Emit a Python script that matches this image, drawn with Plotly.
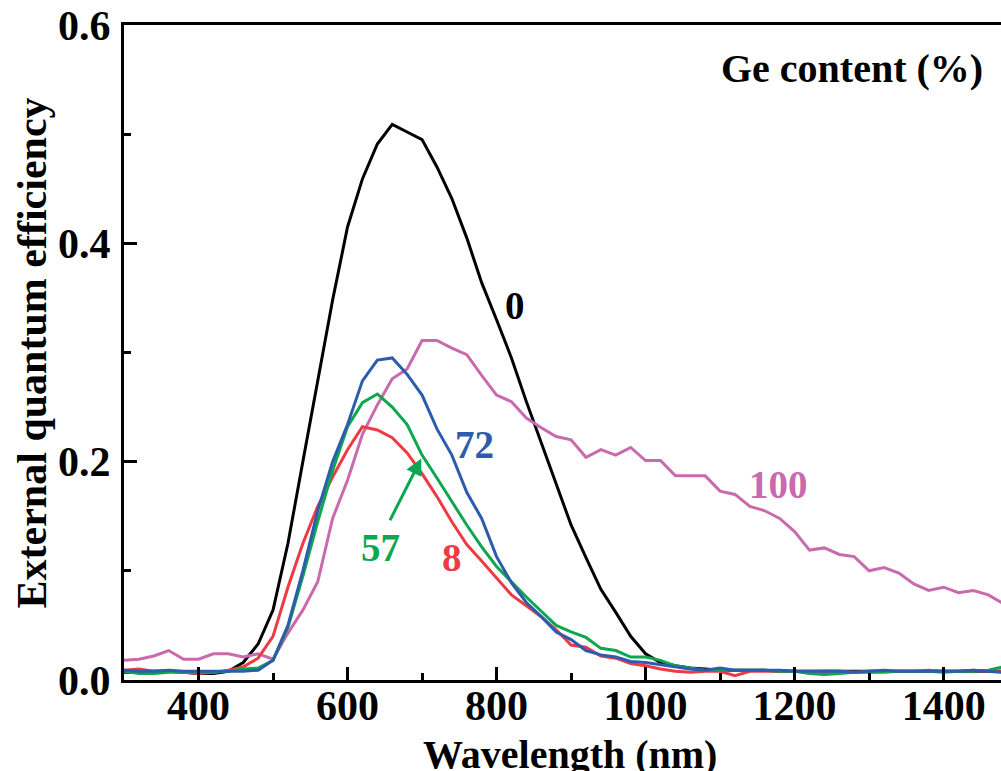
import plotly.graph_objects as go

# Wavelength grid (nm)
wavelength = [300, 320, 340, 360, 380, 400, 420, 440, 460, 480,
              500, 520, 540, 560, 580, 600, 620, 640, 660, 680,
              700, 720, 740, 760, 780, 800, 820, 840, 860, 880,
              900, 920, 940, 960, 980, 1000, 1020, 1040, 1060, 1080,
              1100, 1120, 1140, 1160, 1180, 1200, 1220, 1240, 1260, 1280,
              1300, 1320, 1340, 1360, 1380, 1400, 1420, 1440, 1460, 1480]

# External quantum efficiency for each Ge content
eqe_ge0 = [0.007, 0.007, 0.008, 0.008, 0.007, 0.006, 0.006, 0.008, 0.016, 0.033,
           0.064, 0.125, 0.200, 0.275, 0.348, 0.415, 0.459, 0.491, 0.509, 0.502,
           0.495, 0.470, 0.441, 0.405, 0.364, 0.330, 0.295, 0.255, 0.218, 0.180,
           0.142, 0.112, 0.083, 0.062, 0.040, 0.024, 0.016, 0.013, 0.011, 0.010,
           0.009, 0.009, 0.009, 0.009, 0.008, 0.008, 0.008, 0.008, 0.008, 0.008,
           0.008, 0.008, 0.008, 0.008, 0.008, 0.008, 0.008, 0.008, 0.008, 0.008]

eqe_ge8 = [0.009, 0.010, 0.008, 0.008, 0.007, 0.006, 0.007, 0.009, 0.012, 0.020,
           0.040, 0.085, 0.125, 0.159, 0.186, 0.211, 0.232, 0.229, 0.222, 0.208,
           0.189, 0.168, 0.145, 0.124, 0.109, 0.093, 0.078, 0.068, 0.058, 0.046,
           0.032, 0.030, 0.022, 0.020, 0.015, 0.013, 0.010, 0.008, 0.007, 0.008,
           0.008, 0.004, 0.008, 0.008, 0.008, 0.008, 0.007, 0.008, 0.008, 0.007,
           0.008, 0.008, 0.008, 0.008, 0.009, 0.008, 0.008, 0.009, 0.008, 0.008]

eqe_ge57 = [0.008, 0.006, 0.006, 0.007, 0.007, 0.007, 0.007, 0.008, 0.010, 0.011,
            0.018, 0.048, 0.095, 0.145, 0.192, 0.232, 0.254, 0.262, 0.250, 0.234,
            0.206, 0.185, 0.163, 0.142, 0.122, 0.104, 0.090, 0.076, 0.063, 0.050,
            0.044, 0.039, 0.029, 0.027, 0.021, 0.021, 0.018, 0.013, 0.011, 0.009,
            0.009, 0.009, 0.009, 0.009, 0.008, 0.008, 0.006, 0.005, 0.006, 0.007,
            0.007, 0.007, 0.008, 0.008, 0.008, 0.007, 0.008, 0.008, 0.009, 0.012]

eqe_ge72 = [0.009, 0.008, 0.008, 0.009, 0.008, 0.008, 0.008, 0.008, 0.008, 0.009,
            0.018, 0.050, 0.100, 0.155, 0.200, 0.234, 0.274, 0.293, 0.295, 0.280,
            0.261, 0.230, 0.206, 0.172, 0.148, 0.113, 0.089, 0.071, 0.058, 0.044,
            0.037, 0.027, 0.023, 0.021, 0.017, 0.016, 0.014, 0.012, 0.010, 0.009,
            0.011, 0.009, 0.009, 0.009, 0.009, 0.008, 0.008, 0.008, 0.008, 0.007,
            0.008, 0.009, 0.008, 0.008, 0.008, 0.008, 0.008, 0.009, 0.008, 0.007]

eqe_ge100 = [0.018, 0.019, 0.022, 0.027, 0.019, 0.019, 0.024, 0.024, 0.021, 0.024,
             0.019, 0.043, 0.064, 0.090, 0.148, 0.183, 0.225, 0.252, 0.276, 0.285,
             0.311, 0.311, 0.304, 0.298, 0.279, 0.261, 0.255, 0.240, 0.231, 0.223,
             0.220, 0.204, 0.211, 0.206, 0.213, 0.201, 0.201, 0.187, 0.187, 0.187,
             0.173, 0.170, 0.159, 0.155, 0.148, 0.136, 0.119, 0.121, 0.115, 0.113,
             0.100, 0.103, 0.098, 0.088, 0.082, 0.085, 0.080, 0.082, 0.078, 0.070]

x_ticks = [400, 600, 800, 1000, 1200, 1400]
y_ticks = [0.0, 0.2, 0.4, 0.6]

BLACK = "#000000"
RED = "#EE3A45"
GREEN = "#0CA74E"
BLUE = "#2C5CAB"
PINK = "#C96AAE"
FONT = "Liberation Serif"

series = [
    ("0", eqe_ge0, BLACK),
    ("100", eqe_ge100, PINK),
    ("8", eqe_ge8, RED),
    ("57", eqe_ge57, GREEN),
    ("72", eqe_ge72, BLUE),
]

fig = go.Figure()
for name, vals, color in series:
    fig.add_trace(go.Scatter(
        x=wavelength, y=vals, mode="lines", name=name,
        line=dict(color=color, width=3),
    ))

# Ge-content labels beside each curve: (text, x, y, colour)
curve_labels = [
    ("0", 825, 0.343, BLACK),
    ("72", 770, 0.216, BLUE),
    ("100", 1178, 0.179, PINK),
    ("57", 644, 0.121, GREEN),
    ("8", 740, 0.112, RED),
]
for text, lx, ly, color in curve_labels:
    fig.add_annotation(
        x=lx, y=ly, xref="x", yref="y", text=text, showarrow=False,
        font=dict(family=FONT, size=39, color=color, weight="bold"),
        xanchor="center", yanchor="middle",
    )

# Arrow pointing from the "57" label to its curve
fig.add_annotation(
    x=699, y=0.203, ax=656, ay=0.145, xref="x", yref="y", axref="x", ayref="y",
    text="", showarrow=True, arrowhead=2, arrowsize=1.1, arrowwidth=3,
    arrowcolor=GREEN, standoff=0, startstandoff=0,
)

# Legend heading
fig.add_annotation(
    x=0.83, y=0.933, xref="paper", yref="paper", text="Ge content (%)",
    showarrow=False, xanchor="center", yanchor="middle",
    font=dict(family=FONT, size=40, color=BLACK, weight="bold"),
)

# Axis titles
fig.add_annotation(
    x=0.509, y=-0.113, xref="paper", yref="paper", text="Wavelength (nm)",
    showarrow=False, xanchor="center", yanchor="middle",
    font=dict(family=FONT, size=40, color=BLACK, weight="bold"),
)
fig.add_annotation(
    x=-0.105, y=0.5, xref="paper", yref="paper", text="External quantum efficiency",
    showarrow=False, xanchor="center", yanchor="middle", textangle=-90,
    font=dict(family=FONT, size=42, color=BLACK, weight="bold"),
)

axis_font = dict(family=FONT, size=42, color=BLACK, weight="bold")
fig.update_xaxes(
    range=[300, 1477], tickvals=x_ticks, ticks="inside", ticklen=13, tickwidth=3,
    tickcolor=BLACK, showline=True, linewidth=3, linecolor=BLACK, mirror=True,
    showgrid=False, zeroline=False, tickfont=axis_font, ticklabelstandoff=-13,
    minor=dict(tickvals=[500, 700, 900, 1100, 1300, 1500], ticks="inside",
               ticklen=7, tickwidth=3, tickcolor=BLACK, showgrid=False),
)
fig.update_yaxes(
    range=[0, 0.6], tickvals=y_ticks, tickformat=".1f", ticks="inside", ticklen=13,
    tickwidth=3, tickcolor=BLACK, showline=True, linewidth=3, linecolor=BLACK,
    showgrid=False, zeroline=False, tickfont=axis_font, ticklabelstandoff=2,
    minor=dict(tickvals=[0.1, 0.3, 0.5], ticks="inside", ticklen=7, tickwidth=3,
               tickcolor=BLACK, showgrid=False),
)

fig.update_layout(
    width=1001, height=771, autosize=False,
    margin=dict(l=124, r=0, t=25, b=91, pad=0),
    paper_bgcolor="white", plot_bgcolor="white", showlegend=False,
)

fig.write_html("out.html")
